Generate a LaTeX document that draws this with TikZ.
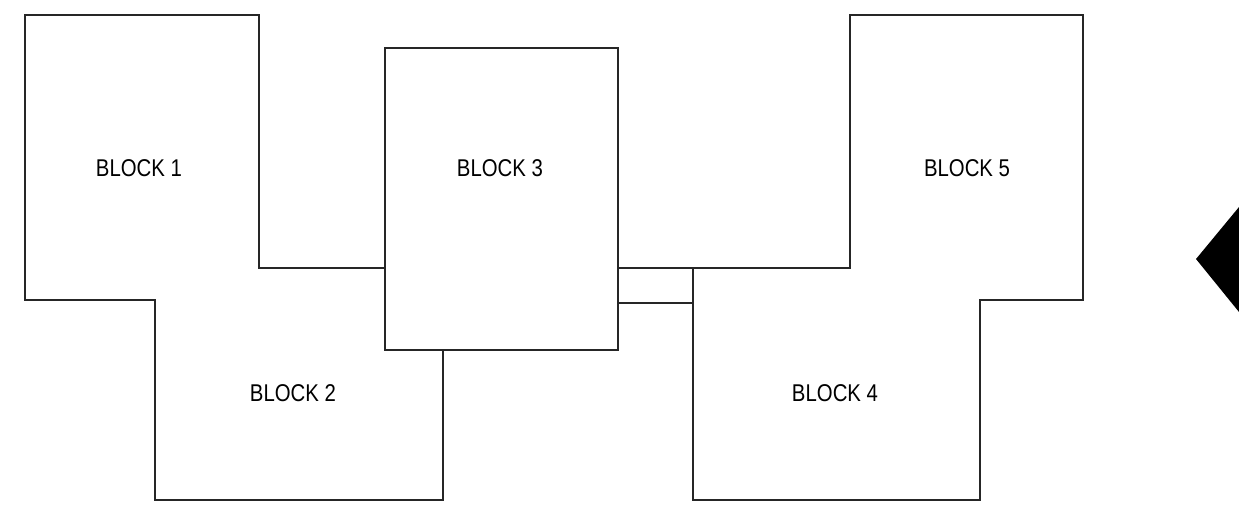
\documentclass[tikz,border=0pt]{standalone}
\usepackage{fontspec}
\newfontfamily\blockfont[FakeStretch=0.84]{Liberation Sans}
\usetikzlibrary{positioning,calc}

\tikzset{
  blockline/.style={draw=black!85,line width=0.6pt,line join=miter},
  blocklabel/.style={font=\blockfont\fontsize{13.8}{16}\selectfont,inner sep=0pt}
}

\begin{document}
\begin{tikzpicture}[x=0.02cm,y=-0.02cm]
  \useasboundingbox (0,0) rectangle (1239,504);

  % corners of the blocks
  \coordinate (b1nw) at (25,15);
  \coordinate (b1se) at (259,300);
  \coordinate (b2nw) at (155,268);
  \coordinate (b2se) at (443,500);
  \coordinate (b3nw) at (385,48);
  \coordinate (b3se) at (618,350);
  \coordinate (b4nw) at (693,268);
  \coordinate (b4se) at (980,500);
  \coordinate (b5nw) at (850,15);
  \coordinate (b5se) at (1083,300);

  % blocks 1 and 2
  \draw[blockline] (b1nw) -- (b1se |- b1nw) -- (b1se |- b2nw) -- (b2se |- b2nw)
    -- (b2se) -- (b2nw |- b2se) -- (b2nw |- b1se) -- (b1nw |- b1se) -- cycle;

  % blocks 4 and 5
  \draw[blockline] (b4nw) -- (b5nw |- b4nw) -- (b5nw) -- (b5se |- b5nw)
    -- (b5se) -- (b4se |- b5se) -- (b4se) -- (b4nw |- b4se) -- cycle;

  % block 3 on top
  \draw[blockline,fill=white] (b3nw) rectangle (b3se);

  % links between block 3 and block 4
  \coordinate (lk) at (693,303);
  \draw[blockline] (b3se |- b4nw) -- (b4nw);
  \draw[blockline] (b3se |- lk) -- (lk);

  % marker at the right edge
  \coordinate (tip) at (1196,259);
  \fill[black] (tip) -- (1239,207) -- (1282,259) -- (1239,312) -- cycle;

  % labels
  \node[blocklabel] (lbl1) at (139,168) {BLOCK 1};
  \node[blocklabel] (lbl2) at (293,393) {BLOCK 2};
  \node[blocklabel] (lbl3) at (500,168) {BLOCK 3};
  \node[blocklabel] (lbl4) at (835,393) {BLOCK 4};
  \node[blocklabel] (lbl5) at (967,168) {BLOCK 5};
\end{tikzpicture}
\end{document}
